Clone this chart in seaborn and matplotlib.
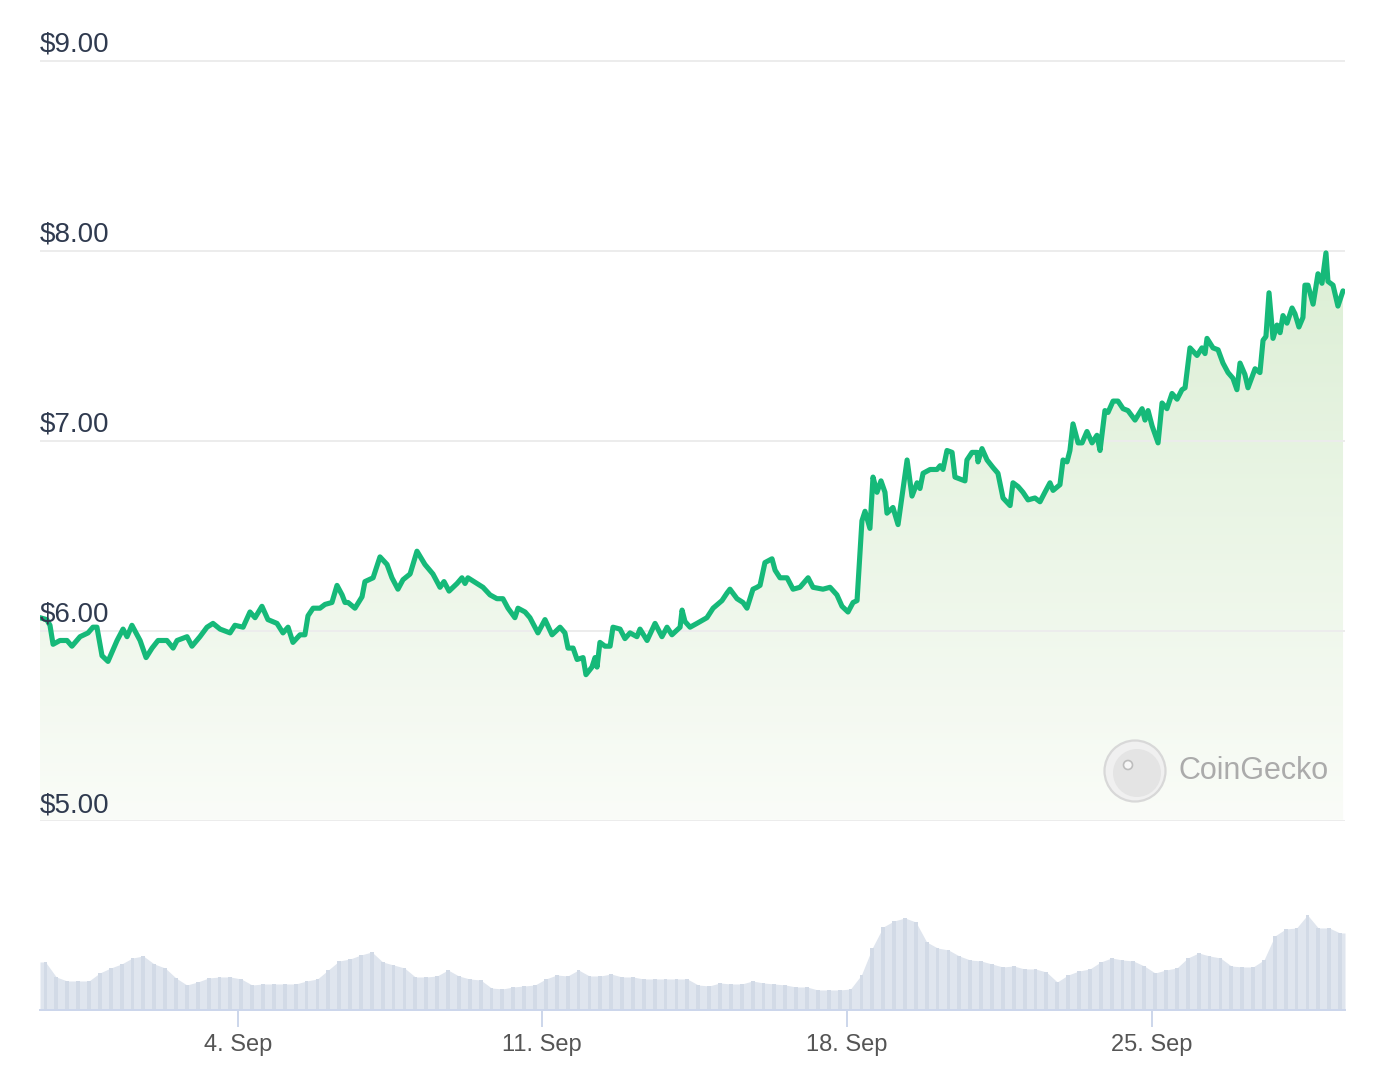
import matplotlib
matplotlib.use("Agg")
import matplotlib.pyplot as plt
import matplotlib.dates as mdates
import matplotlib.transforms as mtransforms
from matplotlib.patches import PathPatch, Circle
from matplotlib.ticker import FuncFormatter
import numpy as np
import pandas as pd
import seaborn as sns

# ---------------- data ----------------
start_time = "2023-08-30 11:00"
price_hours = [
    0, 3.7, 5.5, 7.2, 11.0, 14.9, 17.6, 22.1, 26.5, 29.2,
    31.4, 34.2, 37.5, 42.5, 45.8, 48.0, 50.7, 55.2, 58.5, 61.8,
    65.1, 70.0, 73.4, 75.6, 81.1, 83.8, 88.2, 92.1, 95.4, 99.3,
    104.8, 107.5, 112.0, 115.8, 118.6, 122.4, 125.7, 130.7, 134.0, 136.8,
    139.5, 143.4, 146.1, 147.8, 150.6, 154.4, 157.2, 161.0, 163.8, 166.6,
    168.2, 169.9, 173.7, 177.6, 179.2, 183.7, 187.5, 191.4, 194.1, 197.4,
    200.2, 204.1, 207.9, 212.3, 216.7, 220.6, 222.8, 225.6, 230.0, 232.7,
    234.4, 236.0, 241.0, 244.3, 248.2, 252.0, 255.3, 258.1, 261.9, 263.6,
    267.5, 270.2, 274.6, 278.5, 282.4, 286.8, 289.5, 291.2, 294.0, 296.2,
    299.5, 301.1, 304.4, 306.1, 307.2, 308.8, 311.6, 314.4, 316.0, 319.9,
    322.6, 325.4, 329.2, 330.9, 334.8, 339.2, 343.0, 345.8, 348.5, 353.0,
    354.1, 355.7, 358.5, 362.3, 367.8, 371.2, 376.1, 378.9, 380.5, 384.4,
    387.7, 389.9, 393.2, 395.4, 397.1, 399.8, 403.7, 405.4, 408.1, 412.0,
    415.3, 419.1, 423.6, 426.3, 431.8, 435.7, 439.5, 442.3, 445.6, 448.4,
    450.6, 453.3, 455.0, 457.7, 459.4, 461.6, 463.8, 466.0, 467.1, 470.4,
    473.2, 475.4, 478.2, 480.9, 483.7, 485.3, 487.0, 490.9, 494.7, 496.4,
    498.0, 500.2, 503.0, 504.6, 507.4, 510.1, 511.2, 514.0, 516.8, 517.3,
    519.5, 522.3, 525.6, 528.3, 531.1, 535.0, 536.6, 539.4, 542.1, 544.9,
    548.7, 551.5, 554.2, 557.0, 558.7, 562.5, 564.2, 566.4, 568.0, 569.7,
    572.5, 574.7, 577.4, 580.2, 582.9, 584.6, 587.3, 589.0, 591.8, 594.5,
    597.3, 600.0, 603.9, 607.8, 609.4, 611.1, 613.3, 616.6, 618.8, 621.5,
    624.3, 627.1, 629.8, 631.5, 634.2, 638.1, 640.8, 642.5, 643.6, 646.9,
    649.7, 652.4, 655.2, 657.9, 660.1, 661.8, 664.5, 666.2, 670.1, 672.8,
    674.5, 676.1, 677.8, 680.0, 682.2, 683.9, 685.5, 687.7, 690.5, 692.1,
    694.3, 696.5, 697.6, 699.3, 702.1, 704.8, 707.0, 709.2, 710.3, 713.1,
    715.8, 718.6,
]
prices = [
    6.07, 6.06, 6.03, 5.93, 5.95, 5.95, 5.92, 5.97, 5.99, 6.02,
    6.02, 5.87, 5.84, 5.95, 6.01, 5.97, 6.03, 5.95, 5.86, 5.91,
    5.95, 5.95, 5.91, 5.95, 5.97, 5.92, 5.97, 6.02, 6.04, 6.01,
    5.99, 6.03, 6.02, 6.10, 6.07, 6.13, 6.06, 6.04, 5.99, 6.02,
    5.94, 5.98, 5.98, 6.08, 6.12, 6.12, 6.14, 6.15, 6.24, 6.19,
    6.15, 6.15, 6.12, 6.18, 6.26, 6.28, 6.39, 6.35, 6.28, 6.22,
    6.27, 6.30, 6.42, 6.35, 6.30, 6.23, 6.26, 6.21, 6.25, 6.28,
    6.25, 6.28, 6.25, 6.23, 6.19, 6.17, 6.17, 6.12, 6.07, 6.12,
    6.10, 6.07, 5.99, 6.06, 5.98, 6.02, 5.99, 5.91, 5.91, 5.85,
    5.86, 5.77, 5.81, 5.86, 5.81, 5.94, 5.92, 5.92, 6.02, 6.01,
    5.96, 5.99, 5.97, 6.01, 5.95, 6.04, 5.97, 6.02, 5.98, 6.02,
    6.11, 6.05, 6.02, 6.04, 6.07, 6.12, 6.16, 6.20, 6.22, 6.17,
    6.15, 6.12, 6.22, 6.23, 6.24, 6.36, 6.38, 6.32, 6.28, 6.28,
    6.22, 6.23, 6.28, 6.23, 6.22, 6.23, 6.19, 6.13, 6.10, 6.15,
    6.16, 6.58, 6.63, 6.54, 6.81, 6.73, 6.79, 6.73, 6.62, 6.65,
    6.56, 6.71, 6.90, 6.71, 6.78, 6.75, 6.83, 6.85, 6.85, 6.87,
    6.85, 6.95, 6.94, 6.81, 6.80, 6.79, 6.90, 6.94, 6.94, 6.89,
    6.96, 6.90, 6.86, 6.83, 6.70, 6.66, 6.78, 6.76, 6.73, 6.69,
    6.70, 6.68, 6.73, 6.78, 6.74, 6.77, 6.90, 6.89, 6.95, 7.09,
    6.99, 6.99, 7.05, 6.99, 7.03, 6.95, 7.16, 7.15, 7.21, 7.21,
    7.17, 7.16, 7.11, 7.17, 7.11, 7.16, 7.08, 6.99, 7.20, 7.17,
    7.25, 7.22, 7.27, 7.28, 7.49, 7.45, 7.49, 7.46, 7.54, 7.49,
    7.48, 7.41, 7.36, 7.33, 7.27, 7.41, 7.35, 7.28, 7.38, 7.36,
    7.53, 7.55, 7.78, 7.54, 7.61, 7.57, 7.66, 7.62, 7.70, 7.67,
    7.60, 7.65, 7.82, 7.82, 7.72, 7.88, 7.83, 7.99, 7.84, 7.82,
    7.71, 7.79,
]
# 6-hourly trading volume (relative units)
volume = [
    4.8, 3.3, 2.9, 2.9, 2.9, 3.7, 4.2, 4.6, 5.2, 5.4,
    4.6, 4.2, 3.2, 2.5, 2.8, 3.2, 3.3, 3.3, 3.1, 2.5,
    2.6, 2.6, 2.6, 2.6, 2.9, 3.1, 4.0, 4.9, 5.1, 5.5,
    5.8, 4.8, 4.5, 4.2, 3.3, 3.3, 3.4, 4.0, 3.4, 3.1,
    3.0, 2.2, 2.1, 2.3, 2.4, 2.5, 3.1, 3.5, 3.4, 4.0,
    3.4, 3.4, 3.6, 3.3, 3.3, 3.1, 3.1, 3.1, 3.1, 3.1,
    2.5, 2.4, 2.7, 2.6, 2.6, 2.9, 2.7, 2.6, 2.5, 2.3,
    2.3, 2.0, 2.0, 2.0, 2.1, 3.5, 6.2, 8.3, 8.9, 9.2,
    8.8, 6.8, 6.2, 6.0, 5.4, 5.0, 4.9, 4.6, 4.3, 4.4,
    4.1, 4.1, 3.8, 2.8, 3.5, 3.9, 4.1, 4.8, 5.2, 5.0,
    4.9, 4.4, 3.7, 4.0, 4.2, 5.2, 5.7, 5.4, 5.2, 4.4,
    4.3, 4.3, 5.0, 7.4, 8.1, 8.2, 9.5, 8.2, 8.2, 7.7,
]
volume_step_hours = 6
price_ticks = [5, 6, 7, 8, 9]
price_tick_labels = ["$5.00", "$6.00", "$7.00", "$8.00", "$9.00"]
date_ticks = ["2023-09-04", "2023-09-11", "2023-09-18", "2023-09-25"]
window_hours = 719.7

# ---------------- styling ----------------
sns.set_theme(style="white")
plt.rcParams["font.family"] = ["Liberation Sans", "DejaVu Sans"]

LINE = "#16b979"
GRID = "#ececec"
AXIS = "#ccd6eb"

t0 = pd.Timestamp(start_time)
dates = t0 + pd.to_timedelta(price_hours, unit="h")
df = pd.DataFrame({"date": dates, "price": prices})
vol_dates = t0 + pd.to_timedelta(
    [volume_step_hours * i + volume_step_hours / 2 for i in range(len(volume))], unit="h")

fig = plt.figure(figsize=(13.86, 10.88), dpi=100)
ax = fig.add_axes([40 / 1386, 1 - 821 / 1088, 1305 / 1386, 781 / 1088])
axv = fig.add_axes([40 / 1386, 1 - 1010 / 1088, 1305 / 1386, 180 / 1088], sharex=ax)

ymin, ymax = 5.0, 9.0 + 21 / 190.3
xmin, xmax = t0, t0 + pd.Timedelta(hours=window_hours)

# gradient fill under the line
poly = ax.fill_between(df["date"], df["price"], ymin, color="none", lw=0)
path = poly.get_paths()[0]
clip = PathPatch(path, transform=ax.transData, facecolor="none", edgecolor="none")
ax.add_patch(clip)
n = 256
frac = np.linspace(0, 1, n)[:, None]  # 0 bottom -> 1 top
bottom_c = np.array([250, 252, 248]) / 255
top_c = np.array([209, 234, 200]) / 255
grad = bottom_c + (top_c - bottom_c) * frac
grad = np.repeat(grad[:, None, :], 2, axis=1)
im = ax.imshow(grad, extent=[mdates.date2num(xmin), mdates.date2num(xmax), ymin, ymax],
               origin="lower", aspect="auto", zorder=1, interpolation="bilinear")
im.set_clip_path(clip)

sns.lineplot(data=df, x="date", y="price", ax=ax, color=LINE, linewidth=3.7,
             zorder=3, solid_joinstyle="round", solid_capstyle="round")

ax.set_xlim(xmin, xmax)
ax.set_ylim(ymin, ymax)
ax.set_yticks(price_ticks)
ax.yaxis.grid(True, color=GRID, linewidth=1.4, zorder=2)
ax.set_axisbelow(False)
ax.xaxis.grid(False)
ax.tick_params(axis="both", length=0, labelleft=False, labelbottom=False)
ax.set_xlabel("")
ax.set_ylabel("")
for s in ax.spines.values():
    s.set_visible(False)

trans = mtransforms.blended_transform_factory(ax.transAxes, ax.transData)
trans = trans + mtransforms.ScaledTranslation(0, 3 / 100, fig.dpi_scale_trans)
for v, lab in zip(price_ticks, price_tick_labels):
    ax.text(0, v, lab, transform=trans, ha="left", va="bottom", fontsize=20,
            color="#2f3a4f", zorder=4)

# volume: dense light columns drawn as a filled profile plus column bars
vol_edges = t0 + pd.to_timedelta(
    [volume_step_hours * i for i in range(len(volume))] + [window_hours], unit="h")
vol_profile_x = [vol_edges[0]] + list(vol_dates) + [vol_edges[-1]]
vol_profile_y = [volume[0]] + volume + [volume[-1]]
axv.fill_between(vol_profile_x, vol_profile_y, 0, color="#dfe5ee", lw=0, zorder=1)
axv.bar(vol_dates, volume, width=(volume_step_hours * 0.35) / 24, color="#d2dae6",
        edgecolor="none", align="center", zorder=2)
axv.set_ylim(0, 18)
axv.set_yticks([])
axv.set_xticks(pd.to_datetime(date_ticks))
axv.xaxis.set_major_formatter(FuncFormatter(
    lambda x, pos: f"{mdates.num2date(x).day}. {mdates.num2date(x):%b}"))
axv.tick_params(axis="x", direction="out", length=12, width=1.4, color=AXIS,
                labelsize=17, labelcolor="#555555", pad=5, bottom=True)
for k, s in axv.spines.items():
    s.set_visible(k == "bottom")
axv.spines["bottom"].set_color(AXIS)
axv.spines["bottom"].set_linewidth(1.4)
axv.spines["bottom"].set_zorder(3)
axv.set_xlabel("")
axv.set_ylabel("")
axv.patch.set_alpha(0)
ax.patch.set_alpha(0)
axv.set_xlim(xmin, xmax)

# CoinGecko watermark
cx, cy = 11.35, (1088 - 771) / 100
fig.add_artist(Circle((cx, cy), 0.305, transform=fig.dpi_scale_trans,
                      facecolor="#f0f0f0", edgecolor="#d8d8d8", linewidth=1.6))
fig.add_artist(Circle((cx + 0.02, cy - 0.02), 0.24, transform=fig.dpi_scale_trans,
                      facecolor="#e4e4e4", edgecolor="none"))
fig.add_artist(Circle((cx - 0.07, cy + 0.06), 0.045, transform=fig.dpi_scale_trans,
                      facecolor="#f7f7f7", edgecolor="#bdbdbd", linewidth=1.2))
fig.text(1178 / 1386, 1 - 771 / 1088, "CoinGecko", ha="left", va="center",
         fontsize=22, color="#ababab", fontweight="medium")

fig.savefig("out.png", dpi=100, facecolor="white")
